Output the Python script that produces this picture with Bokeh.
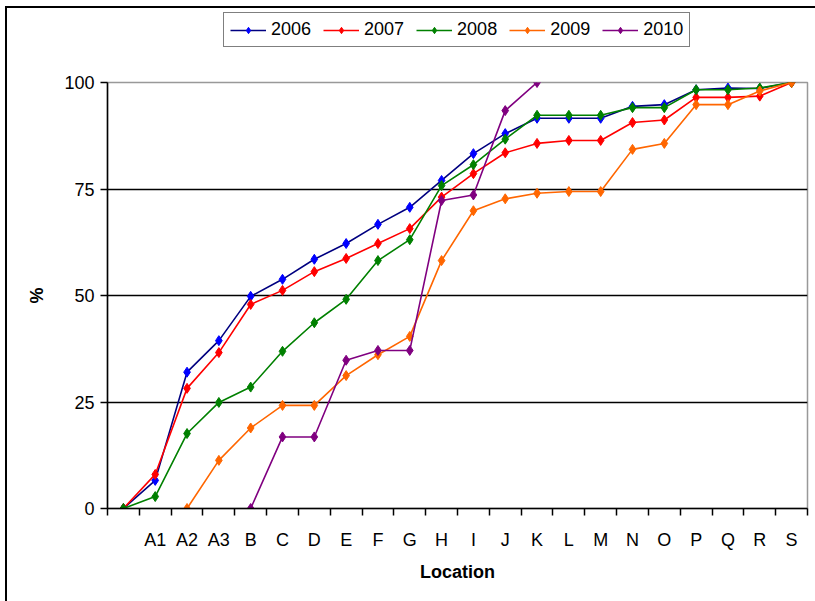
from bokeh.plotting import figure
from bokeh.layouts import column
from bokeh.models import FixedTicker, Range1d, Legend, LegendItem
from bokeh.embed import file_html
from bokeh.resources import INLINE

nan = float("nan")

locations = ["", "A1", "A2", "A3", "B", "C", "D", "E", "F", "G", "H", "I",
             "J", "K", "L", "M", "N", "O", "P", "Q", "R", "S"]
y_ticks = [0, 25, 50, 75, 100]

s2006 = [0, 6.6, 32.0, 39.4, 49.8, 53.8, 58.5, 62.2, 66.7, 70.7, 77.0, 83.3,
         88.0, 91.6, 91.6, 91.6, 94.4, 94.8, 98.3, 98.7, 98.6, 100]
s2007 = [0, 8.0, 28.2, 36.6, 47.9, 51.2, 55.6, 58.7, 62.2, 65.7, 73.1, 78.6,
         83.5, 85.7, 86.4, 86.4, 90.6, 91.2, 96.5, 96.5, 96.8, 100]
s2008 = [0, 2.8, 17.6, 24.9, 28.5, 36.9, 43.6, 49.1, 58.2, 63.1, 75.8, 80.7,
         86.7, 92.3, 92.3, 92.3, 94.1, 94.1, 98.3, 98.3, 98.7, 100]
s2009 = [nan, nan, 0, 11.3, 18.9, 24.2, 24.2, 31.2, 36.1, 40.4, 58.2, 69.9,
         72.7, 74.0, 74.4, 74.4, 84.3, 85.7, 94.8, 94.8, 98.0, 100]
s2010 = [nan, nan, nan, nan, 0, 16.8, 16.8, 34.8, 37.1, 37.1, 72.3, 73.6,
         93.4, 100, nan, nan, nan, nan, nan, nan, nan, nan]

series = [
    ("2006", s2006, "#000080", "#0000FF"),
    ("2007", s2007, "#FF0000", "#FF0000"),
    ("2008", s2008, "#008000", "#008000"),
    ("2009", s2009, "#FF6600", "#FF6600"),
    ("2010", s2010, "#800080", "#800080"),
]

FONT = "Liberation Sans"
n = len(locations)
xs = [i + 0.5 for i in range(n)]

# ---------------- main chart ----------------
p = figure(width=808, height=543, output_backend="svg",
           toolbar_location=None,
           x_range=Range1d(0, n), y_range=Range1d(0, 100),
           min_border_left=100, min_border_right=8,
           min_border_top=24, min_border_bottom=93)
p.frame_width = 700
p.frame_height = 426

p.outline_line_color = "#999999"
p.outline_line_width = 1.5
p.background_fill_color = "white"
p.border_fill_color = "white"

p.xaxis.ticker = FixedTicker(ticks=xs, minor_ticks=list(range(n + 1)))
p.xaxis.major_label_overrides = {x: lab for x, lab in zip(xs, locations)}
p.xaxis.major_tick_out = 0
p.xaxis.major_tick_in = 0
p.xaxis.minor_tick_out = 7
p.xaxis.minor_tick_in = 0
p.xaxis.minor_tick_line_color = "black"
p.xaxis.minor_tick_line_width = 1.5
p.xaxis.major_label_standoff = 14
p.xaxis.axis_label = "Location"
p.xaxis.axis_label_standoff = 9

p.yaxis.ticker = FixedTicker(ticks=y_ticks)
p.yaxis.minor_tick_line_color = None
p.yaxis.major_tick_out = 7
p.yaxis.major_tick_in = 0
p.yaxis.major_label_standoff = 6
p.yaxis.axis_label = "%"
p.yaxis.axis_label_standoff = 14

for ax in (p.xaxis, p.yaxis):
    ax.axis_line_color = "black"
    ax.axis_line_width = 1.5
    ax.major_tick_line_color = "black"
    ax.major_tick_line_width = 1.5
    ax.major_label_text_font = FONT
    ax.major_label_text_font_size = "18px"
    ax.major_label_text_color = "black"
    ax.axis_label_text_font = FONT
    ax.axis_label_text_font_size = "18px"
    ax.axis_label_text_font_style = "bold"
    ax.axis_label_text_color = "black"

p.xgrid.grid_line_color = None
p.ygrid.ticker = FixedTicker(ticks=[25, 50, 75])
p.ygrid.grid_line_color = "black"
p.ygrid.grid_line_width = 1.5

for name, vals, lc, mc in series:
    p.line(xs, vals, line_color=lc, line_width=1.6)
    p.scatter(xs, vals, marker="diamond", size=10, fill_color=mc,
              line_color=mc, line_width=1)

# ---------------- legend strip (same series, out of view) ----------------
lg = figure(width=808, height=50, output_backend="svg", toolbar_location=None,
            x_range=Range1d(0, n), y_range=Range1d(1000, 1001),
            min_border_left=100, min_border_right=8, min_border_top=0,
            min_border_bottom=0)
lg.frame_width = 700
lg.frame_height = 50
lg.axis.visible = False
lg.grid.visible = False
lg.outline_line_color = None
lg.background_fill_color = "white"
lg.border_fill_color = "white"

items = []
for name, vals, lc, mc in series:
    r1 = lg.line(xs, vals, line_color=lc, line_width=1.6)
    r2 = lg.scatter(xs, vals, marker="diamond", size=10, fill_color=mc,
                    line_color=mc, line_width=1)
    items.append(LegendItem(label=name, renderers=[r1, r2]))

legend = Legend(items=items, orientation="horizontal", location=(116, 11),
                border_line_color="black", border_line_width=1.5,
                padding=6, spacing=12, glyph_width=36, glyph_height=16,
                label_standoff=5, label_text_font=FONT,
                label_text_font_size="18px", label_text_color="black",
                margin=0,
                background_fill_color="white", background_fill_alpha=1)
lg.add_layout(legend, "center")

layout = column(lg, p, spacing=0, margin=(6, 0, 0, 5),
                styles={"border-left": "2px solid black",
                        "border-top": "2px solid black"})

open("out.html", "w").write(file_html(layout, INLINE))
